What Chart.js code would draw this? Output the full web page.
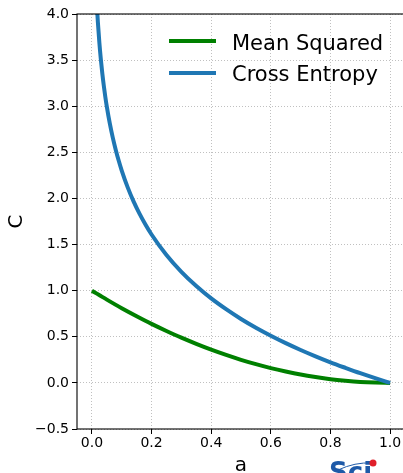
<!DOCTYPE html>
<html>
<head>
<meta charset="utf-8">
<script src="https://cdn.jsdelivr.net/npm/chart.js@4/dist/chart.umd.min.js"></script>
<style>
  html, body { margin: 0; padding: 0; background: #fff; }
  #wrap { width: 403px; height: 473px; overflow: hidden; position: relative; }
  #c { position: absolute; left: 0; top: 0; }
</style>
</head>
<body>
<div id="wrap"><canvas id="c" width="420" height="480"></canvas></div>
<script>
// ---- data ----
const seriesNames = ["Mean Squared", "Cross Entropy"];
const mseA = [0.00, 0.05, 0.10, 0.15, 0.20, 0.25, 0.30, 0.35, 0.40, 0.45, 0.50, 0.55, 0.60, 0.65, 0.70, 0.75, 0.80, 0.85, 0.90, 0.95, 1.00];
const mseC = [1.000, 0.903, 0.810, 0.723, 0.640, 0.563, 0.490, 0.423, 0.360, 0.303, 0.250, 0.203, 0.160, 0.123, 0.090, 0.063, 0.040, 0.023, 0.010, 0.003, 0.000];
const ceA = [0.010, 0.0125, 0.015, 0.0175, 0.020, 0.025, 0.030, 0.035, 0.040, 0.045, 0.050, 0.060, 0.070, 0.080, 0.090, 0.10, 0.12, 0.14, 0.16, 0.18, 0.20, 0.25, 0.30, 0.35, 0.40, 0.45, 0.50, 0.55, 0.60, 0.65, 0.70, 0.75, 0.80, 0.85, 0.90, 0.95, 1.00];
const ceC = [4.605, 4.382, 4.200, 4.046, 3.912, 3.689, 3.507, 3.352, 3.219, 3.101, 2.996, 2.813, 2.659, 2.526, 2.408, 2.303, 2.120, 1.966, 1.833, 1.715, 1.609, 1.386, 1.204, 1.050, 0.916, 0.799, 0.693, 0.598, 0.511, 0.431, 0.357, 0.288, 0.223, 0.163, 0.105, 0.051, 0.000];
const xTicks = [0.0, 0.2, 0.4, 0.6, 0.8, 1.0];
const yTicks = [-0.5, 0.0, 0.5, 1.0, 1.5, 2.0, 2.5, 3.0, 3.5, 4.0];
const xLabel = "a";
const yLabel = "C";

const GREEN = "#008000";
const BLUE = "#1f77b4";
const FONT = "'DejaVu Sans', sans-serif";

const framePlugin = {
  id: "frame",
  afterDatasetsDraw(chart) {
    const { ctx, chartArea: a } = chart;
    ctx.save();
    ctx.strokeStyle = "#000";
    ctx.lineWidth = 1.1;
    ctx.strokeRect(a.left, a.top, a.right - a.left, a.bottom - a.top);
    ctx.restore();
  }
};

const legendPlugin = {
  id: "mplLegend",
  afterDraw(chart) {
    const { ctx } = chart;
    const items = [[seriesNames[0], GREEN, 41, 50], [seriesNames[1], BLUE, 73, 81]];
    ctx.save();
    ctx.font = "21px " + FONT;
    ctx.textBaseline = "alphabetic";
    ctx.textAlign = "left";
    items.forEach(([label, color, y, base]) => {
      ctx.strokeStyle = color;
      ctx.lineWidth = 4;
      ctx.beginPath();
      ctx.moveTo(169, y);
      ctx.lineTo(216, y);
      ctx.stroke();
      ctx.fillStyle = "#000";
      ctx.fillText(label, 232, base);
    });
    // watermark logo fragment
    ctx.font = "bold 26px " + FONT;
    ctx.fillStyle = "#1e5aa8";
    ctx.textBaseline = "top";
    ctx.fillText("Sci", 329, 461);
    ctx.strokeStyle = "#1e5aa8";
    ctx.lineWidth = 1;
    ctx.beginPath();
    ctx.moveTo(338, 470);
    ctx.quadraticCurveTo(355, 462, 372, 463);
    ctx.stroke();
    ctx.fillStyle = "#e0202a";
    ctx.beginPath();
    ctx.arc(373, 463, 3.5, 0, Math.PI * 2);
    ctx.fill();
    ctx.restore();
  }
};

const fmt = v => (v < 0 ? "\u2212" + Math.abs(v).toFixed(1) : v.toFixed(1));

const gridOpts = { color: "#b0b0b0", lineWidth: 0.8, drawTicks: true, tickLength: 5, tickColor: "#000", tickWidth: 1, tickBorderDash: [] };

new Chart(document.getElementById("c"), {
  type: "line",
  data: {
    datasets: [
      {
        label: seriesNames[1],
        data: ceA.map((a, i) => ({ x: a, y: ceC[i] })),
        borderColor: BLUE,
        borderWidth: 4,
        pointRadius: 0,
        cubicInterpolationMode: "monotone",
        fill: false
      },
      {
        label: seriesNames[0],
        data: mseA.map((a, i) => ({ x: a, y: mseC[i] })),
        borderColor: GREEN,
        borderWidth: 4,
        pointRadius: 0,
        cubicInterpolationMode: "monotone",
        fill: false
      }
    ]
  },
  options: {
    responsive: false,
    animation: false,
    events: [],
    layout: { padding: { left: 0, right: 15, top: 14, bottom: 0 } },
    plugins: { legend: { display: false }, tooltip: { enabled: false } },
    scales: {
      x: {
        type: "linear",
        min: -0.05,
        max: 1.05,
        afterBuildTicks: axis => { axis.ticks = xTicks.map(v => ({ value: v })); },
        afterFit: axis => { axis.height = 51; },
        ticks: { callback: v => fmt(v), color: "#000", font: { family: FONT, size: 14 }, padding: 1, maxRotation: 0, autoSkip: false },
        grid: gridOpts,
        border: { display: false, dash: [1, 2] },
        title: { display: true, text: xLabel, color: "#000", font: { family: FONT, size: 20 }, padding: { top: 0, bottom: 2 } }
      },
      y: {
        type: "linear",
        min: -0.5,
        max: 4.0,
        afterBuildTicks: axis => { axis.ticks = yTicks.map(v => ({ value: v })); },
        afterFit: axis => { axis.width = 77; },
        ticks: { callback: v => fmt(v), color: "#000", font: { family: FONT, size: 14 }, padding: 3, autoSkip: false },
        grid: gridOpts,
        border: { display: false, dash: [1, 2] },
        title: { display: true, text: yLabel, color: "#000", font: { family: FONT, size: 20 }, padding: { top: 5, bottom: 0 } }
      }
    }
  },
  plugins: [framePlugin, legendPlugin]
});
</script>
</body>
</html>
